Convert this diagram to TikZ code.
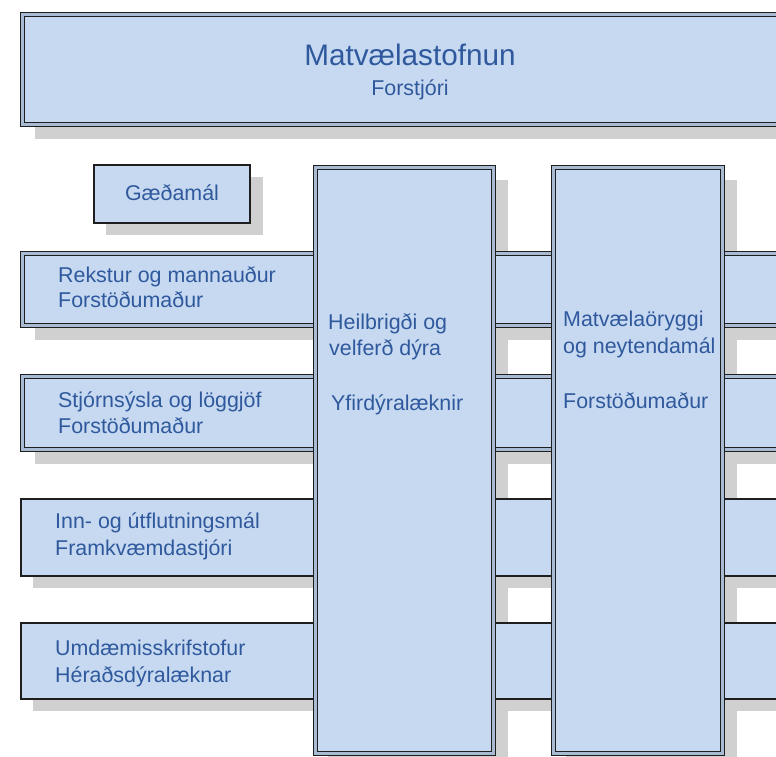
\documentclass[tikz,border=0pt]{standalone}
\usepackage{fontspec}
\setmainfont{Liberation Sans}
\pgfdeclarelayer{shadowlayer}
\pgfsetlayers{shadowlayer,main}
\definecolor{boxfill}{HTML}{C6D9F1}
\definecolor{gapfill}{HTML}{A9BBD3}
\definecolor{txtblue}{HTML}{2F599C}
\definecolor{shadowc}{HTML}{D0D0D0}
\definecolor{edgec}{HTML}{1E1E1E}
\tikzset{
  dbox/.style={draw=edgec, line width=1.3pt, double=gapfill, double distance=2.3pt,
    fill=boxfill, rectangle, inner sep=0pt, outer sep=0pt, anchor=north west},
  sbox/.style={draw=edgec, line width=1.3pt, fill=boxfill, rectangle, inner sep=0pt,
    outer sep=0pt, anchor=north west},
  lbl/.style={text=txtblue, inner sep=0pt, anchor=base west, font=\fontsize{21.4}{25}\selectfont},
  clbl/.style={lbl, anchor=base},
}
\begin{document}
\begin{tikzpicture}[x=1pt,y=-1pt]
\useasboundingbox (0,0) rectangle (776,757);
\clip (0,0) rectangle (776,757);
% boxes
\node[dbox, minimum width=777.5pt, minimum height=110pt] (top) at (22.5,14.5) {};
\node[sbox, minimum width=156pt, minimum height=58pt] (gq) at (94,165) {};
\node[dbox, minimum width=777.5pt, minimum height=72pt] (r1) at (22.5,253.5) {};
\node[dbox, minimum width=777.5pt, minimum height=73pt] (r2) at (22.5,376.5) {};
\node[sbox, minimum width=779pt, minimum height=77pt] (r3) at (21,499) {};
\node[sbox, minimum width=779pt, minimum height=76pt] (r4) at (21,623) {};
\node[dbox, minimum width=178pt, minimum height=586pt] (c1) at (315.5,167.5) {};
\node[dbox, minimum width=169pt, minimum height=586pt] (c2) at (553.5,167.5) {};
% shadows
\begin{pgfonlayer}{shadowlayer}
\foreach \n in {top,r1,r2,c1,c2}{
  \fill[shadowc] ([shift={(12,12)}]\n.north west) rectangle ([shift={(14.4,14.4)}]\n.south east);
}
\foreach \n in {gq,r3,r4}{
  \fill[shadowc] ([shift={(12,12)}]\n.north west) rectangle ([shift={(12.6,12)}]\n.south east);
}
\end{pgfonlayer}
% texts
\node[clbl, font=\fontsize{29.7}{34}\selectfont] (t1) at (410,66) {Matvælastofnun};
\node[clbl] (t2) at (410,96) {Forstjóri};
\node[clbl] (g1) at (172,200) {Gæðamál};
\node[lbl] (a1) at (58,282) {Rekstur og mannauður};
\node[lbl] (a2) at (58,307) {Forstöðumaður};
\node[lbl] (b1) at (58,407) {Stjórnsýsla og löggjöf};
\node[lbl] (b2) at (58,433) {Forstöðumaður};
\node[lbl] (d1) at (55,528) {Inn- og útflutningsmál};
\node[lbl] (d2) at (55,555) {Framkvæmdastjóri};
\node[lbl] (e1) at (55,655) {Umdæmisskrifstofur};
\node[lbl] (e2) at (55,682) {Héraðsdýralæknar};
\node[lbl] (h1) at (328,329) {Heilbrigði og};
\node[lbl] (h2) at (329,355) {velferð dýra};
\node[lbl] (h3) at (331,410) {Yfirdýralæknir};
\node[lbl] (m1) at (563,326) {Matvælaöryggi};
\node[lbl] (m2) at (563,353) {og neytendamál};
\node[lbl] (m3) at (563,408) {Forstöðumaður};
\end{tikzpicture}
\end{document}
